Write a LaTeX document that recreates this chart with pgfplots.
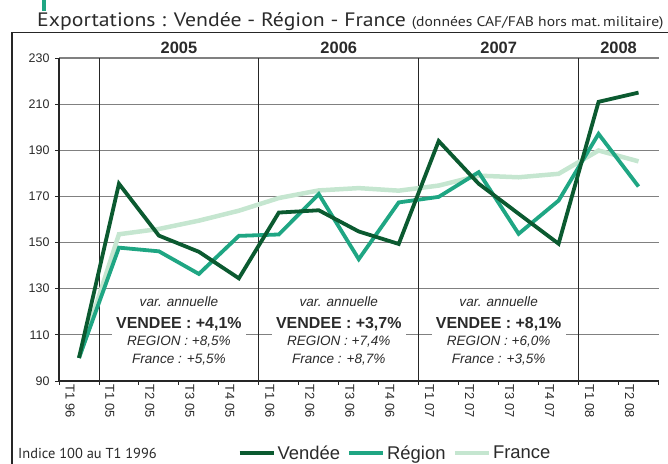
\documentclass[border=0pt]{standalone}
\usepackage{fontspec}
\setmainfont{Liberation Sans}
\newfontfamily\titlefont{PT Sans}
\usepackage{pgfplots}
\pgfplotsset{compat=1.18}
\definecolor{cVen}{HTML}{0B5A30}
\definecolor{cReg}{HTML}{1FA683}
\definecolor{cFra}{HTML}{C5E6D0}
\definecolor{cGrid}{HTML}{808080}
\definecolor{cDark}{HTML}{262626}
\definecolor{cText}{HTML}{2A2A2A}

\pgfplotstableread{
x ven reg fra
0 100 100 100
1 175.5 147.8 153.6
2 153.0 146.2 155.9
3 146.0 136.4 159.5
4 134.5 152.9 163.8
5 163.0 153.5 169.3
6 164.0 171.0 172.6
7 154.8 142.8 173.6
8 149.4 167.4 172.5
9 194.0 169.8 174.7
10 175.5 180.5 179.0
11 162.5 153.8 178.3
12 149.5 168.2 179.8
13 211.0 197.1 189.9
14 215.0 174.3 185.2
}\datatable

\tikzset{
  yearlab/.style={inner sep=0, text=cText, font=\bfseries\fontsize{16.5}{17}\selectfont},
  boxbg/.style={fill=white, inner sep=0, minimum width=134bp, minimum height=70bp},
  itl/.style={anchor=base, inner sep=0, text=cText, font=\itshape\fontsize{13.6}{14}\selectfont},
  bdl/.style={anchor=base, inner sep=0, text=cText, font=\bfseries\fontsize{16}{17}\selectfont},
}

\begin{document}
\begin{tikzpicture}[x=1bp,y=1bp]
\path[use as bounding box] (0,0) rectangle (668,464);
\fill[cReg] (42,453) rectangle (46,464);
\draw[cDark, line width=1.6bp] (11.7,-2) -- (11.7,431.5) -- (670,431.5);
\node[anchor=base west, inner sep=0, text=cText] at (37,437.5) {\scalebox{1.12}[1]{\titlefont\fontsize{19.5}{20}\selectfont Exportations : Vendée - Région - France \fontsize{14}{15}\selectfont(données CAF/FAB hors mat.\,militaire)}};
\node[anchor=base west, inner sep=0, text=cText] at (18,5) {\titlefont\fontsize{14.5}{16}\selectfont Indice 100 au T1 1996};
\begin{axis}[
  at={(59bp,83bp)}, anchor=south west, scale only axis,
  width=599.5bp, height=323bp,
  xmin=-0.5, xmax=14.5, ymin=90, ymax=230,
  clip=false,
  axis x line*=bottom, axis y line*=left,
  axis line style={cDark, line width=1.1bp},
  /pgf/number format/assume math mode=true,
  ytick={90,110,...,230},
  minor ytick={90,110,...,230},
  xtick={0,...,14},
  xticklabels={T1 96,T1 05,T2 05,T3 05,T4 05,T1 06,T2 06,T3 06,T4 06,T1 07,T2 07,T3 07,T4 07,T1 08,T2 08},
  minor xtick={-0.5,0.5,...,14.5},
  major tick length=0pt,
  minor tick length=4bp,
  tick align=outside,
  minor tick style={cDark, line width=0.9bp},
  ymajorgrids,
  major grid style={cGrid, line width=1.1bp},
  extra x ticks={0.5,4.5,8.5,12.5},
  extra x tick labels={},
  extra x tick style={grid=major, major grid style={cDark, line width=0.9bp}},
  yticklabel style={font=\fontsize{12.5}{13}\selectfont, text=cText, xshift=-6bp},
  xticklabel style={font=\fontsize{13}{13}\selectfont, text=cText, rotate=-90, anchor=west, yshift=-9bp},
  legend style={at={(0.5605,-0.223)}, anchor=center, draw=none, fill=none,
    legend columns=3, font=\fontsize{18.5}{20}\selectfont, text=cText,
    /tikz/every even column/.append style={column sep=5bp}},
  legend image code/.code={\draw[#1] (0bp,0bp) -- (34bp,0bp);},
]
\addlegendimage{cVen, line width=4bp}
\addlegendentry{Vendée}
\addlegendimage{cReg, line width=4bp}
\addlegendentry{Région}
\addlegendimage{cFra, line width=4.5bp}
\addlegendentry{France}
\addplot[cFra, line width=4.5bp, forget plot] table[x=x, y=fra] {\datatable};
\addplot[cReg, line width=3.8bp, forget plot] table[x=x, y=reg] {\datatable};
\addplot[cVen, line width=3.8bp, forget plot] table[x=x, y=ven] {\datatable};

\node[yearlab] at (axis cs:2.5,234.55) {2005};
\node[yearlab] at (axis cs:6.5,234.55) {2006};
\node[yearlab] at (axis cs:10.5,234.55) {2007};
\node[yearlab] at (axis cs:13.5,234.55) {2008};

\node[boxbg] at (axis cs:2.5,110.8) {};
\node[itl] at (axis cs:2.5,122.5) {var. annuelle};
\node[bdl] at (axis cs:2.5,112.8) {VENDEE : +4,1\%};
\node[itl] at (axis cs:2.5,105.3) {REGION : +8,5\%};
\node[itl] at (axis cs:2.5,97.4) {France : +5,5\%};

\node[boxbg] at (axis cs:6.5,110.8) {};
\node[itl] at (axis cs:6.5,122.5) {var. annuelle};
\node[bdl] at (axis cs:6.5,112.8) {VENDEE : +3,7\%};
\node[itl] at (axis cs:6.5,105.3) {REGION : +7,4\%};
\node[itl] at (axis cs:6.5,97.4) {France : +8,7\%};

\node[boxbg] at (axis cs:10.5,110.8) {};
\node[itl] at (axis cs:10.5,122.5) {var. annuelle};
\node[bdl] at (axis cs:10.5,112.8) {VENDEE : +8,1\%};
\node[itl] at (axis cs:10.5,105.3) {REGION : +6,0\%};
\node[itl] at (axis cs:10.5,97.4) {France : +3,5\%};
\end{axis}
\end{tikzpicture}
\end{document}
